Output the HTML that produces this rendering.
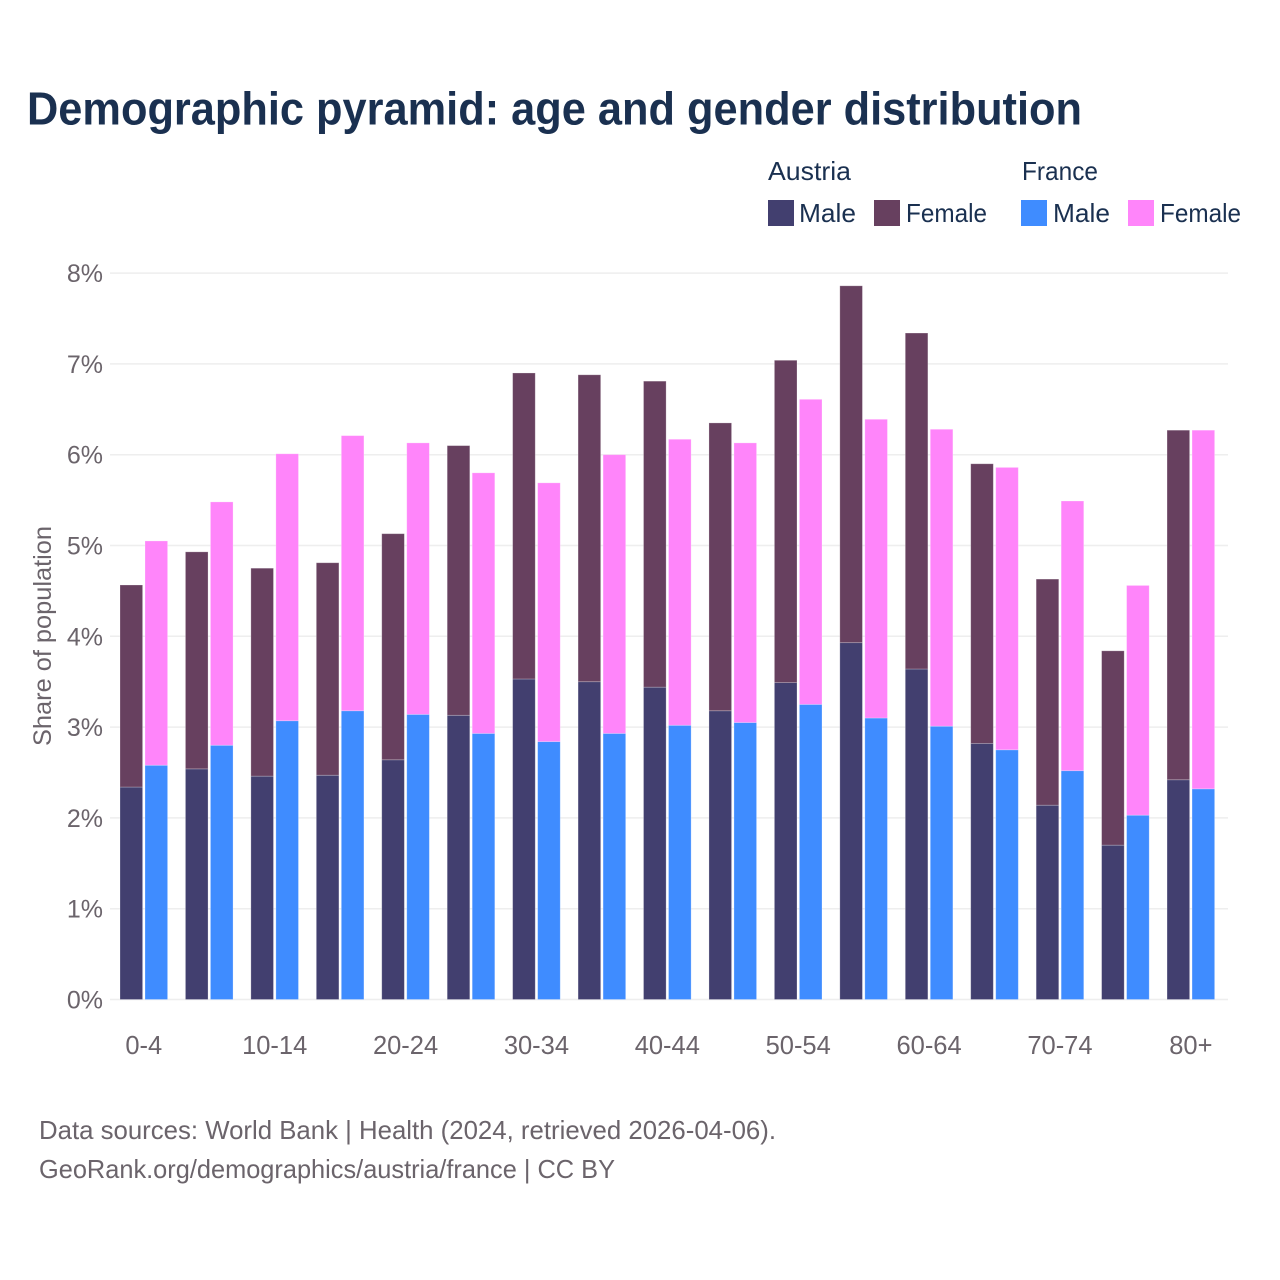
<!DOCTYPE html>
<html lang="en">
<head>
<meta charset="utf-8">
<title>Demographic pyramid: age and gender distribution</title>
<style>
html,body{margin:0;padding:0;background:#fff;}
svg{display:block;font-family:"Liberation Sans",sans-serif;}
</style>
</head>
<body>
<svg id="chart" xmlns="http://www.w3.org/2000/svg" width="1280" height="1280" viewBox="0 0 1280 1280">
  <rect x="0" y="0" width="1280" height="1280" fill="#ffffff"/>
  <text x="27" y="124.5" font-size="46" font-weight="700" fill="#1a3050" textLength="1055" lengthAdjust="spacingAndGlyphs">Demographic pyramid: age and gender distribution</text>

  <g font-size="26" fill="#1a3050">
    <text x="768" y="180" textLength="83" lengthAdjust="spacingAndGlyphs">Austria</text>
    <text x="1022" y="180" textLength="76" lengthAdjust="spacingAndGlyphs">France</text>
    <rect x="768" y="200" width="26" height="26" fill="#423f6f"/>
    <text x="799" y="222" textLength="57" lengthAdjust="spacingAndGlyphs">Male</text>
    <rect x="874" y="200" width="26" height="26" fill="#67405f"/>
    <text x="906" y="222" textLength="81" lengthAdjust="spacingAndGlyphs">Female</text>
    <rect x="1021" y="200" width="26" height="26" fill="#3f8cff"/>
    <text x="1053" y="222" textLength="57" lengthAdjust="spacingAndGlyphs">Male</text>
    <rect x="1128" y="200" width="26" height="26" fill="#ff85fa"/>
    <text x="1160" y="222" textLength="81" lengthAdjust="spacingAndGlyphs">Female</text>
  </g>

  <text transform="translate(51,636) rotate(-90)" text-anchor="middle" font-size="25" fill="#6b646b" textLength="220" lengthAdjust="spacingAndGlyphs">Share of population</text>

  <g id="grid"></g>
  <g id="yticks"></g>
  <g id="bars"></g>
  <g id="xticks"></g>

  <g font-size="26" fill="#6b646b">
    <text x="39" y="1139" textLength="737" lengthAdjust="spacingAndGlyphs">Data sources: World Bank | Health (2024, retrieved 2026-04-06).</text>
    <text x="39" y="1178" textLength="576" lengthAdjust="spacingAndGlyphs">GeoRank.org/demographics/austria/france | CC BY</text>
  </g>
</svg>
<script>
const categories = ["0-4","5-9","10-14","15-19","20-24","25-29","30-34","35-39","40-44","45-49","50-54","55-59","60-64","65-69","70-74","75-79","80+"];
const tickLabels = ["0-4","","10-14","","20-24","","30-34","","40-44","","50-54","","60-64","","70-74","","80+"];
const yTicks = [0,1,2,3,4,5,6,7,8];
const austriaMale   = [2.34,2.54,2.46,2.47,2.64,3.13,3.53,3.50,3.44,3.18,3.49,3.93,3.64,2.82,2.14,1.70,2.42];
const austriaFemale = [2.225,2.39,2.29,2.34,2.49,2.97,3.37,3.38,3.37,3.17,3.55,3.93,3.70,3.08,2.49,2.14,3.85];
const franceMale    = [2.58,2.80,3.07,3.18,3.14,2.93,2.84,2.93,3.02,3.05,3.25,3.10,3.01,2.75,2.52,2.03,2.32];
const franceFemale  = [2.47,2.68,2.94,3.03,2.99,2.87,2.85,3.07,3.15,3.08,3.36,3.29,3.27,3.11,2.97,2.53,3.95];

const NS = "http://www.w3.org/2000/svg";
const yScale = v => 999.5 - v * 90.8;
const xScale = i => 120 + i * 65.44;
const barW = 22.6;
const gapX = 25;

function make(tag, attrs, parent) {
  const el = document.createElementNS(NS, tag);
  for (const k in attrs) el.setAttribute(k, attrs[k]);
  parent.appendChild(el);
  return el;
}

const grid = document.getElementById('grid');
const yt = document.getElementById('yticks');
yTicks.forEach(t => {
  const line = make('line', {x1:110, x2:1228, y1:yScale(t), y2:yScale(t), stroke:'#eeeeee', 'stroke-width':1.5}, grid);
  
  
  const label = make('text', {x:103, y:yScale(t)+9, 'text-anchor':'end', 'font-size':25, fill:'#6b646b'}, yt);
  
  
  label.textContent = t + '%';
});

const bars = document.getElementById('bars');
function segment(x, base, value, fill, name) {
  const top = yScale(base + value);
  const rect = make('rect', {x:x, y:top, width:barW, height:yScale(base) - top, fill:fill, stroke:'#ffffff', 'stroke-opacity':0.3, 'stroke-width':0.8}, bars);
  
  
}
categories.forEach((c, i) => {
  const x = xScale(i);
  segment(x, 0, austriaMale[i], '#423f6f', 'bar-austria-male-' + c);
  segment(x, austriaMale[i], austriaFemale[i], '#67405f', 'bar-austria-female-' + c);
  segment(x + gapX, 0, franceMale[i], '#3f8cff', 'bar-france-male-' + c);
  segment(x + gapX, franceMale[i], franceFemale[i], '#ff85fa', 'bar-france-female-' + c);
});

const xt = document.getElementById('xticks');
tickLabels.forEach((t, i) => {
  if (!t) return;
  const label = make('text', {x:xScale(i) + (barW + gapX) / 2, y:1054, 'text-anchor':'middle', 'font-size':25.5, fill:'#6b646b'}, xt);
  
  
  label.textContent = t;
});
</script>
</body>
</html>
